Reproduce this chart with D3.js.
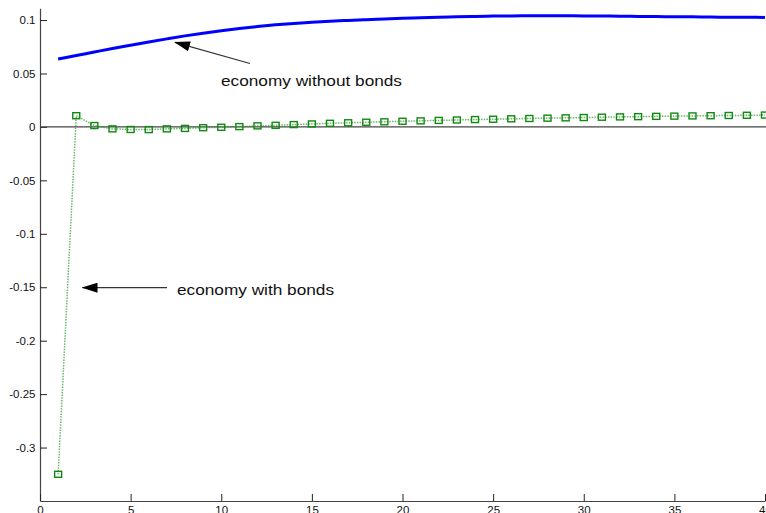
<!DOCTYPE html>
<html>
<head>
<meta charset="utf-8">
<script src="https://cdn.jsdelivr.net/npm/d3@7"></script>
<style>
  html, body { margin: 0; padding: 0; background: #fff; }
  svg { display: block; }
  text { font-family: "Liberation Sans", Arial, sans-serif; fill: #111; }
</style>
</head>
<body>
<svg id="chart" width="766" height="513"></svg>
<script>
// Periods of the impulse response
const periods = d3.range(1, 41);

// Response of the economy without bonds (solid blue line)
const withoutBonds = [
  0.0635, 0.0668, 0.0701, 0.0734, 0.0765, 0.0795, 0.0824, 0.0852, 0.0877, 0.0900,
  0.0921, 0.0939, 0.0955, 0.0968, 0.0979, 0.0989, 0.0997, 0.1004, 0.1010, 0.1016,
  0.1021, 0.1026, 0.1030, 0.1034, 0.1037, 0.1039, 0.1040, 0.1040, 0.1040, 0.1039,
  0.1038, 0.1036, 0.1034, 0.1033, 0.1031, 0.1030, 0.1028, 0.1027, 0.1026, 0.1025
];

// Response of the economy with bonds (dotted green line with square markers)
const withBonds = [
  -0.325, 0.0105, 0.0013, -0.0018, -0.0024, -0.0025, -0.0018, -0.0014, -0.0007, -0.0003,
  0.0003, 0.0010, 0.0015, 0.0022, 0.0028, 0.0034, 0.0039, 0.0044, 0.0048, 0.0053,
  0.0057, 0.0061, 0.0065, 0.0069, 0.0072, 0.0076, 0.0079, 0.0082, 0.0085, 0.0088,
  0.0091, 0.0094, 0.0096, 0.0099, 0.0101, 0.0103, 0.0105, 0.0107, 0.0109, 0.0111
];

// Axis ticks
const xTicks = [0, 5, 10, 15, 20, 25, 30, 35, 40];
const yTicks = [0.1, 0.05, 0, -0.05, -0.1, -0.15, -0.2, -0.25, -0.3];

const svg = d3.select("#chart");

const x = d3.scaleLinear().domain([0, 40]).range([40, 765]);
const y = d3.scaleLinear().domain([-0.35, 0.111]).range([501, 8.3]);

// Plain hyphen for negative tick labels
const fmtY = d => d3.format("~g")(d).replace("\u2212", "-");

// Axes with inward ticks
const yAxis = d3.axisLeft(y).tickValues(yTicks).tickSizeInner(-7).tickSizeOuter(0)
  .tickPadding(12).tickFormat(fmtY);
const xAxis = d3.axisBottom(x).tickValues(xTicks).tickSizeInner(-7).tickSizeOuter(0)
  .tickPadding(12).tickFormat(d3.format("d"));

const gy = svg.append("g").attr("transform", `translate(${x(0)},0)`).call(yAxis);
const gx = svg.append("g").attr("transform", `translate(0,${y(-0.35)})`).call(xAxis);

[gx, gy].forEach(g => {
  g.select(".domain").attr("stroke", "#444").attr("stroke-width", 1.2);
  g.selectAll(".tick line").attr("stroke", "#222").attr("stroke-width", 1);
  g.selectAll(".tick text").attr("font-size", 11.5).attr("fill", "#111")
    .attr("font-family", "'Liberation Sans', Arial, sans-serif");
});
gy.selectAll(".tick text").attr("x", -4.5);
gx.selectAll(".tick text").attr("dy", "0.71em").attr("y", 4.5);

// Zero reference line
svg.append("line")
  .attr("x1", x(0)).attr("x2", 766)
  .attr("y1", y(0)).attr("y2", y(0))
  .attr("stroke", "#444").attr("stroke-width", 1.2);

// Economy without bonds
const lineBlue = d3.line().x((d, i) => x(periods[i])).y(d => y(d)).curve(d3.curveMonotoneX);
svg.append("path")
  .attr("d", lineBlue(withoutBonds))
  .attr("fill", "none")
  .attr("stroke", "#0000ff")
  .attr("stroke-width", 3);

// Economy with bonds
const lineGreen = d3.line().x((d, i) => x(periods[i])).y(d => y(d));
svg.append("path")
  .attr("d", lineGreen(withBonds))
  .attr("fill", "none")
  .attr("stroke", "#3a9e3a")
  .attr("stroke-width", 1.5)
  .attr("stroke-dasharray", "1.5,1.2")
  .attr("opacity", 0.75);

svg.append("g").selectAll("rect")
  .data(withBonds)
  .join("rect")
  .attr("x", (d, i) => x(periods[i]) - 3.5)
  .attr("y", d => y(d) - 3)
  .attr("width", 7)
  .attr("height", 6)
  .attr("fill", "none")
  .attr("stroke", "#108a10")
  .attr("stroke-width", 1.4);

// Annotation arrows
const defs = svg.append("defs");
defs.append("marker")
  .attr("id", "head")
  .attr("viewBox", "0 0 16 10")
  .attr("refX", 15).attr("refY", 5)
  .attr("markerWidth", 16).attr("markerHeight", 10)
  .attr("markerUnits", "userSpaceOnUse")
  .attr("orient", "auto")
  .append("path")
  .attr("d", "M0,0 L16,5 L0,10 Z")
  .attr("fill", "#000");

svg.append("line")
  .attr("x1", 250).attr("y1", 63.5)
  .attr("x2", 175).attr("y2", 42.3)
  .attr("stroke", "#333").attr("stroke-width", 1.2)
  .attr("marker-end", "url(#head)");

svg.append("line")
  .attr("x1", 167).attr("y1", 287.7)
  .attr("x2", 82.5).attr("y2", 287.7)
  .attr("stroke", "#333").attr("stroke-width", 1.2)
  .attr("marker-end", "url(#head)");

svg.append("text")
  .attr("x", 221).attr("y", 86)
  .attr("font-size", 15)
  .attr("textLength", 181).attr("lengthAdjust", "spacingAndGlyphs")
  .text("economy without bonds");

svg.append("text")
  .attr("x", 177).attr("y", 295)
  .attr("font-size", 15)
  .attr("textLength", 157).attr("lengthAdjust", "spacingAndGlyphs")
  .text("economy with bonds");
</script>
</body>
</html>
